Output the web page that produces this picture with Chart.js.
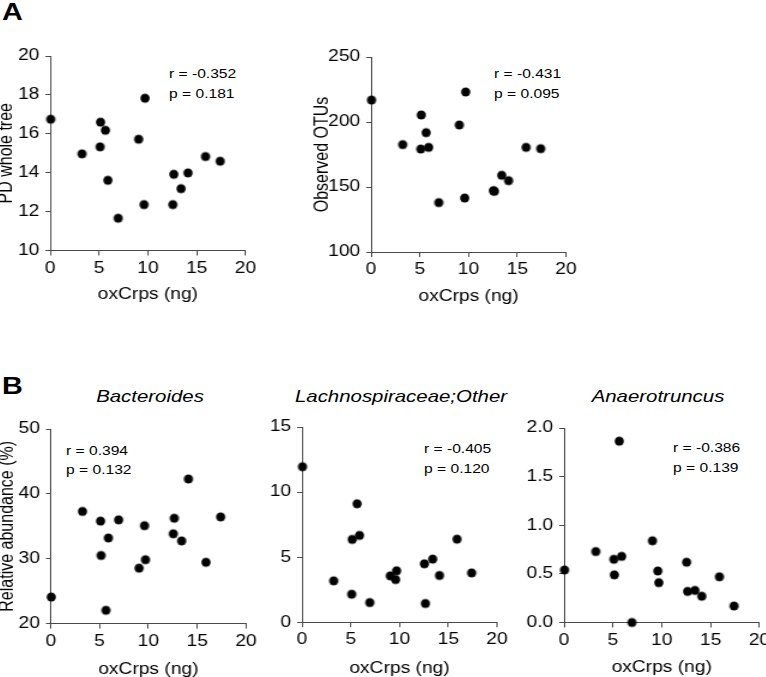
<!DOCTYPE html>
<html>
<head>
<meta charset="utf-8">
<script src="https://cdn.jsdelivr.net/npm/chart.js@4.4.0/dist/chart.umd.min.js"></script>
<style>
  html, body { margin: 0; padding: 0; background: #fff; overflow: hidden; width: 766px; height: 677px; }
  body { position: relative; font-family: "Liberation Sans", Arial, sans-serif; color: #000; }
  .lbl { position: absolute; white-space: nowrap; line-height: 1; transform-origin: 0 0; transform: scaleX(1.2); }
  .ttl { position: absolute; white-space: nowrap; line-height: 1; font-size: 17px; font-style: italic; transform: translateX(-50%) scaleX(1.2); }
  .box { position: absolute; transform-origin: 0 0; transform: scaleX(1.2); }
</style>
</head>
<body>

<div class="lbl" style="left:1.5px;top:0.2px;font-size:24px;font-weight:bold">A</div>
<div class="lbl" style="left:2px;top:374px;font-size:24px;font-weight:bold">B</div>

<div class="lbl" style="left:169px;top:66.6px;font-size:13px">r = -0.352</div>
<div class="lbl" style="left:169px;top:86.6px;font-size:13px">p = 0.181</div>
<div class="lbl" style="left:494px;top:66.9px;font-size:13px">r = -0.431</div>
<div class="lbl" style="left:494px;top:86.9px;font-size:13px">p = 0.095</div>

<div class="ttl" style="left:149.8px;top:387.5px">Bacteroides</div>
<div class="ttl" style="left:400.8px;top:387.7px">Lachnospiraceae;Other</div>
<div class="ttl" style="left:657.5px;top:388.2px">Anaerotruncus</div>

<div class="lbl" style="left:66px;top:443.6px;font-size:13px">r = 0.394</div>
<div class="lbl" style="left:66px;top:463.3px;font-size:13px">p = 0.132</div>
<div class="lbl" style="left:423.5px;top:442.3px;font-size:13px">r = -0.405</div>
<div class="lbl" style="left:423.5px;top:461.9px;font-size:13px">p = 0.120</div>
<div class="lbl" style="left:673px;top:440.6px;font-size:13px">r = -0.386</div>
<div class="lbl" style="left:673px;top:460.6px;font-size:13px">p = 0.139</div>

<script>
// oxCrps (ng) per sample, same order in every panel
const oxCrps = [0.05, 3.25, 5.1, 5.15, 5.65, 5.9, 6.95, 9.05, 9.6, 9.7, 12.55, 12.65, 13.4, 14.1, 15.9, 17.4];

const pdWholeTree   = [16.75, 14.97, 15.33, 16.6, 16.18, 13.61, 11.66, 15.72, 12.36, 17.83, 12.36, 13.92, 13.18, 13.99, 14.83, 14.59];
const observedOTUs  = [216.9, 182.6, 179.2, 205.4, 191.8, 180.5, 138.0, 197.7, 141.5, 223.1, 147.2, 146.7, 159.0, 154.9, 180.5, 179.5];
const bacteroides   = [24.1, 37.3, 35.8, 30.5, 22.05, 33.2, 36.0, 28.55, 35.1, 29.85, 33.85, 36.25, 32.75, 42.3, 29.45, 36.45];
const lachnoOther   = [11.95, 3.18, 2.15, 6.36, 9.1, 6.67, 1.51, 3.56, 3.28, 3.95, 4.49, 1.44, 4.85, 3.59, 6.38, 3.79];
const anaerotruncus = [0.54, 0.73, 0.65, 0.49, 1.865, 0.68, 0.0, 0.84, 0.53, 0.41, 0.62, 0.32, 0.33, 0.27, 0.47, 0.17];

const xTicks      = [0, 5, 10, 15, 20];
const pdTicks     = [10, 12, 14, 16, 18, 20];
const otuTicks    = [100, 150, 200, 250];
const bactTicks   = [20, 30, 40, 50];
const lachnoTicks = [0, 5, 10, 15];
const anaeroTicks = [0, 0.5, 1, 1.5, 2];

const SX = 1.2;   // lettering in the figure is stretched sideways
const AXIS = '#4a4a4a';
const FONT = '"Liberation Sans", Arial, sans-serif';

// round dot that stays round after the sideways stretch
function dot() {
  const c = document.createElement('canvas');
  c.width = 10; c.height = 12;
  const g = c.getContext('2d');
  g.fillStyle = '#000';
  g.beginPath();
  g.ellipse(5, 6, 4.6 / SX, 4.6, 0, 0, Math.PI * 2);
  g.fill();
  return c;
}
const DOT = dot();

function scatter(p) {
  // p.x0..x1 / y0..y1 = plot area on the page, p.yt / p.xt = axis title centres
  const L = p.yTitle ? p.yt - SX * 9.6 : p.x0 - SX * 40;
  const yw = (p.x0 - L) / SX;
  const inner = (p.x1 - L) / SX;
  const w = Math.ceil(inner + 14);
  const xh = p.xt + 9.6 - p.y1;
  const hInner = 20 + (p.y1 - p.y0) + xh;
  const h = Math.ceil(hInner + 2);

  const box = document.createElement('div');
  box.className = 'box';
  box.style.left = L + 'px';
  box.style.top = (p.y0 - 20) + 'px';
  const cv = document.createElement('canvas');
  cv.width = w; cv.height = h;
  box.appendChild(cv);
  document.body.appendChild(box);

  const yt = p.yTicks;
  new Chart(cv, {
    type: 'scatter',
    data: {
      datasets: [{
        data: oxCrps.map((x, i) => ({ x: x, y: p.ys[i] })),
        pointStyle: DOT,
        pointRadius: 4.6,
        backgroundColor: '#000',
        borderWidth: 0,
        clip: false
      }]
    },
    options: {
      responsive: false,
      animation: false,
      events: [],
      layout: { padding: { left: 0, right: w - inner, top: 20, bottom: h - hInner } },
      plugins: { legend: { display: false }, tooltip: { enabled: false } },
      scales: {
        x: {
          type: 'linear', min: xTicks[0], max: xTicks[xTicks.length - 1],
          afterBuildTicks: s => { s.ticks = xTicks.map(v => ({ value: v })); },
          afterFit: s => { s.height = xh; },
          grid: { display: true, drawOnChartArea: false, drawTicks: true, tickLength: 5, color: AXIS },
          border: { display: true, color: AXIS, width: 1 },
          ticks: { padding: 3, color: '#000', font: { family: FONT, size: 16 }, maxRotation: 0, autoSkip: false },
          title: { display: true, text: 'oxCrps (ng)', color: '#000', font: { family: FONT, size: 16 }, padding: 0 }
        },
        y: {
          type: 'linear', min: yt[0], max: yt[yt.length - 1],
          afterBuildTicks: s => { s.ticks = yt.map(v => ({ value: v })); },
          afterFit: s => { s.width = yw; },
          grid: { display: true, drawOnChartArea: false, drawTicks: true, tickLength: 4, color: AXIS },
          border: { display: true, color: AXIS, width: 1 },
          ticks: { padding: 5, color: '#000', font: { family: FONT, size: 16 }, autoSkip: false,
                   callback: v => v.toFixed(p.dec) },
          title: { display: !!p.yTitle, text: p.yTitle || '', color: '#000', font: { family: FONT, size: 16 }, padding: 0 }
        }
      }
    }
  });
}

scatter({ ys: pdWholeTree, yTicks: pdTicks, dec: 0, yTitle: 'PD whole tree',
          x0: 50.7, x1: 246, y0: 55.5, y1: 250, yt: 7, xt: 294.5 });
scatter({ ys: observedOTUs, yTicks: otuTicks, dec: 0, yTitle: 'Observed OTUs',
          x0: 371, x1: 566, y0: 57, y1: 252, yt: 322.5, xt: 296.5 });
scatter({ ys: bacteroides, yTicks: bactTicks, dec: 0, yTitle: 'Relative abundance (%)',
          x0: 50.7, x1: 246, y0: 428.7, y1: 623.3, yt: 7.5, xt: 669.5 });
scatter({ ys: lachnoOther, yTicks: lachnoTicks, dec: 0, yTitle: null,
          x0: 301.5, x1: 496.5, y0: 427.3, y1: 622.5, xt: 668.5 });
scatter({ ys: anaerotruncus, yTicks: anaeroTicks, dec: 1, yTitle: null,
          x0: 563.8, x1: 759.2, y0: 428, y1: 622.5, xt: 668 });
</script>
</body>
</html>
